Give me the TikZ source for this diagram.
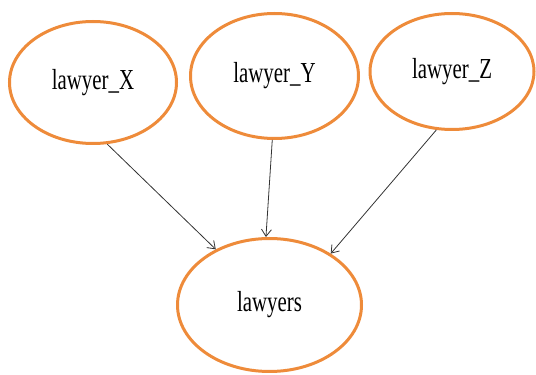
\documentclass[tikz,border=0pt]{standalone}
\usepackage{fontspec}
\usepackage{tikz}
\usetikzlibrary{arrows.meta, shapes.geometric}
\newfontfamily\lawfont[FakeStretch=0.72]{Liberation Serif}
\definecolor{nodeOrange}{HTML}{EE8B3A}
\definecolor{edgeGray}{HTML}{333333}

\tikzset{
	lawnode/.style={ellipse, draw=nodeOrange, line width=3pt, inner sep=0pt,
		font=\lawfont\fontsize{29}{32}\selectfont},
	lawedge/.style={->, edgeGray, line width=0.8pt}
}

\begin{document}
\begin{tikzpicture}[>={Straight Barb[length=7pt, width=10pt]}, x=1pt, y=1pt]
	\useasboundingbox (0,0) rectangle (536,375);
	
	% parent nodes
	\node[lawnode, minimum width=167pt, minimum height=122pt] (lx) at (93, 292.5) {lawyer\_X};
	\node[lawnode, minimum width=168pt, minimum height=125pt] (ly) at (274.5, 299) {lawyer\_Y};
	\node[lawnode, minimum width=164pt, minimum height=116pt] (lz) at (452, 303.5) {lawyer\_Z};
	
	% child node
	\node[lawnode, minimum width=184pt, minimum height=133pt] (ls) at (269.5, 70) {lawyers};
	
	\draw[lawedge] (lx.-77) -- (ls.134);
	\draw[lawedge] (ly.-92) -- (ls.93);
	\draw[lawedge] (lz.-105) -- (ls.40);
\end{tikzpicture}
\end{document}
